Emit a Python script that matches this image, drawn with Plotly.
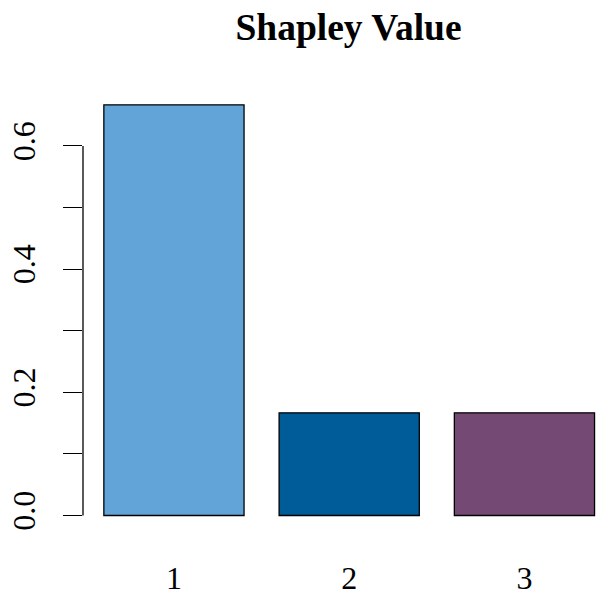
import plotly.graph_objects as go

players = ["1", "2", "3"]
shapley = [2/3, 1/6, 1/6]
bar_colors = ["#62A4D8", "#005B99", "#744A74"]
y_ticks = [0, 0.1, 0.2, 0.3, 0.4, 0.5, 0.6]
y_tick_labels = ["0.0", "", "0.2", "", "0.4", "", "0.6"]

W, H = 597, 593
font_family = "Liberation Serif, Times New Roman, serif"

fig = go.Figure()
fig.add_trace(go.Bar(
    x=list(range(len(players))),
    y=shapley,
    width=0.8,
    marker=dict(color=bar_colors, line=dict(color="black", width=1.3)),
    showlegend=False,
))

fig.add_shape(type="line", xref="paper", yref="y", x0=0, x1=0, y0=y_ticks[0], y1=y_ticks[-1],
              line=dict(color="black", width=1.3))

fig.update_layout(
    width=W, height=H,
    margin=dict(l=83, r=0, t=90, b=H - 532.5),
    paper_bgcolor="white", plot_bgcolor="white",
    font=dict(family=font_family, color="black"),
    title=dict(text="<b>Shapley Value</b>", x=(236 + 461) / 2 / W, xanchor="center",
               y=1 - 27 / H, yanchor="middle", yref="container",
               font=dict(size=37.5, family=font_family, color="black")),
    bargap=0.2,
)
fig.update_xaxes(
    range=[-0.519, 2.414], automargin=False,
    tickvals=list(range(len(players))), ticktext=players,
    showline=False, showgrid=False, zeroline=False,
    ticks="outside", ticklen=18, tickcolor="rgba(0,0,0,0)",
    tickfont=dict(size=32, family=font_family, color="black"),
)
fig.update_yaxes(
    range=[-0.02676, 0.6908], automargin=False,
    tickvals=y_ticks, ticktext=y_tick_labels, tickangle=-90,
    showline=False, showgrid=False, zeroline=False,
    ticks="outside", ticklen=19, tickwidth=1.3, tickcolor="black",
    ticklabelstandoff=15,
    tickfont=dict(size=32, family=font_family, color="black"),
)

fig.write_html(
    "out.html",
    config={"displayModeBar": False},
    post_script="document.body.style.margin='0';document.body.style.overflow='hidden';",
)
